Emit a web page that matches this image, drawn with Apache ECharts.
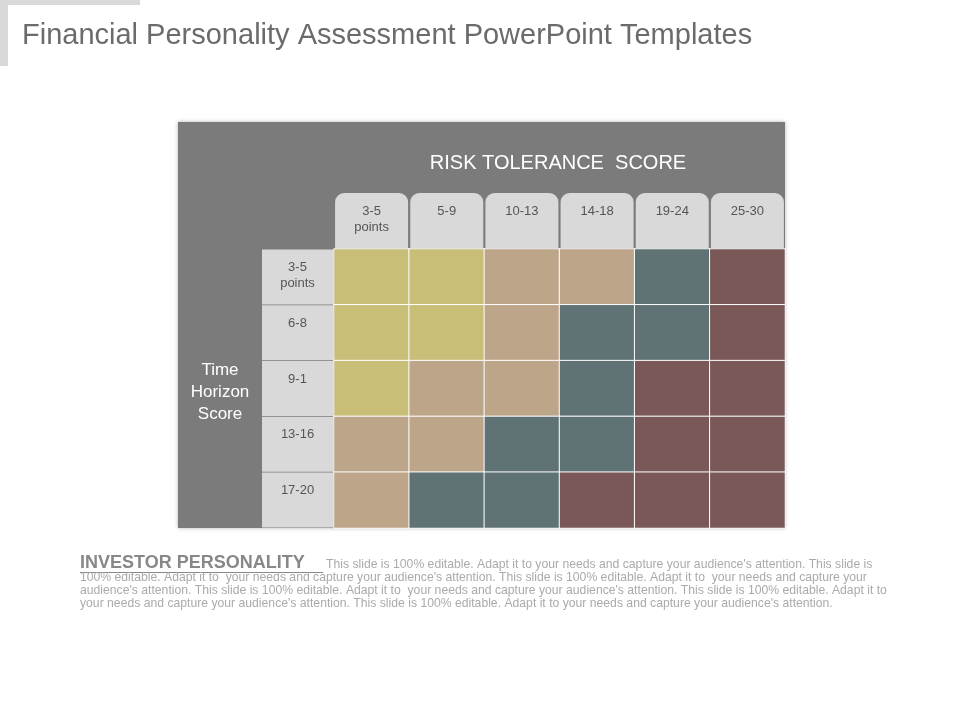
<!DOCTYPE html>
<html><head><meta charset="utf-8">
<script src="https://cdn.jsdelivr.net/npm/echarts@6/dist/echarts.min.js"></script>
<style>html,body{margin:0;padding:0;background:#fff}#c{width:960px;height:720px}</style>
</head><body><div id="c"></div>
<script>
const riskCols = ['3-5\npoints','5-9','10-13','14-18','19-24','25-30'];
const timeRows = ['3-5\npoints','6-8','9-1','13-16','17-20'];
const levelNames = ['Conservative','Moderate','Growth','Aggressive'];
const levelColors = ['#C9BE78','#BDA58A','#5F7274','#7A5858'];
// level per row (top to bottom), per column
const matrix = [
  [0,0,1,1,2,3],
  [0,0,1,2,2,3],
  [0,1,1,2,3,3],
  [1,1,2,2,3,3],
  [1,2,2,3,3,3]
];
const bodyLines = [
  "This slide is 100% editable. Adapt it to your needs and capture your audience's attention. This slide is",
  "100% editable. Adapt it to  your needs and capture your audience's attention. This slide is 100% editable. Adapt it to  your needs and capture your",
  "audience's attention. This slide is 100% editable. Adapt it to  your needs and capture your audience's attention. This slide is 100% editable. Adapt it to",
  "your needs and capture your audience's attention. This slide is 100% editable. Adapt it to your needs and capture your audience's attention."
];
const data = [];
matrix.forEach((row, r) => row.forEach((v, c) => data.push({value:[c, r, v], itemStyle:{color: levelColors[v]}})));

const chart = echarts.init(document.getElementById('c'));
const txt = {fill:'#aaa', font:'12.2px "Liberation Sans", Arial, sans-serif'};
const fam = '"Liberation Sans", Arial, sans-serif';
const fmt = v => v.split('\n').map(s => '{a|' + s + '}').join('\n');
chart.setOption({
  animation:false,
  title:{text:'Financial Personality Assessment PowerPoint Templates', left:17, top:16,
    textStyle:{fontFamily:fam, fontSize:29, fontWeight:'normal', color:'#6b6b6b'}},
  graphic:[
    {type:'rect', z:-10, shape:{x:0,y:0,width:8,height:66}, style:{fill:'#d9d9d9'}},
    {type:'rect', z:-10, shape:{x:0,y:0,width:140,height:5}, style:{fill:'#d9d9d9'}},
    {type:'rect', z:-5, shape:{x:178,y:122,width:607,height:406}, style:{fill:'#7b7b7b', shadowBlur:4, shadowColor:'rgba(0,0,0,0.3)'}},
    {type:'text', z:10, style:{text:'RISK TOLERANCE  SCORE', x:558, y:163, align:'center', verticalAlign:'middle', fill:'#fff', font:'20px ' + fam}},
    {type:'text', z:10, style:{text:'Time\nHorizon\nScore', x:220, y:392, align:'center', verticalAlign:'middle', lineHeight:22, fill:'#fff', font:'17px ' + fam}},
    {type:'text', style:{text:'INVESTOR PERSONALITY ', x:80, y:563, verticalAlign:'middle', fill:'#888', font:'bold 18px ' + fam}},
    {type:'rect', shape:{x:80,y:572,width:243,height:1}, style:{fill:'#888'}},
    {type:'text', style:Object.assign({text:bodyLines[0], x:326, y:565, verticalAlign:'middle'}, txt)},
    {type:'text', style:Object.assign({text:bodyLines[1], x:80, y:578, verticalAlign:'middle'}, txt)},
    {type:'text', style:Object.assign({text:bodyLines[2], x:80, y:591, verticalAlign:'middle'}, txt)},
    {type:'text', style:Object.assign({text:bodyLines[3], x:80, y:604, verticalAlign:'middle'}, txt)}
  ],
  grid:{left:334, top:249, width:451, height:279},
  xAxis:{type:'category', position:'top', data:riskCols, axisLine:{show:false}, axisTick:{show:false}, splitLine:{show:false},
    axisLabel:{margin:1, interval:0, formatter:fmt, verticalAlign:'bottom', align:'center',
      backgroundColor:'#d9d9d9', borderRadius:[9,9,0,0], padding:[10,0,10,0], width:73, height:35,
      rich:{a:{color:'#555', fontSize:13, fontFamily:fam, lineHeight:16, width:73, align:'center'}}}},
  yAxis:{type:'category', inverse:true, data:timeRows, axisLine:{show:false}, axisTick:{show:false}, splitLine:{show:false},
    axisLabel:{margin:1, interval:0, formatter:fmt, align:'right', verticalAlign:'middle',
      backgroundColor:'#d9d9d9', padding:[10,0,10,0], width:71, height:35,
      rich:{a:{color:'#555', fontSize:13, fontFamily:fam, lineHeight:16, width:71, align:'center'}}}},
  series:[{type:'heatmap', data:data, itemStyle:{borderColor:'#fff', borderWidth:1}}]
});
</script></body></html>
